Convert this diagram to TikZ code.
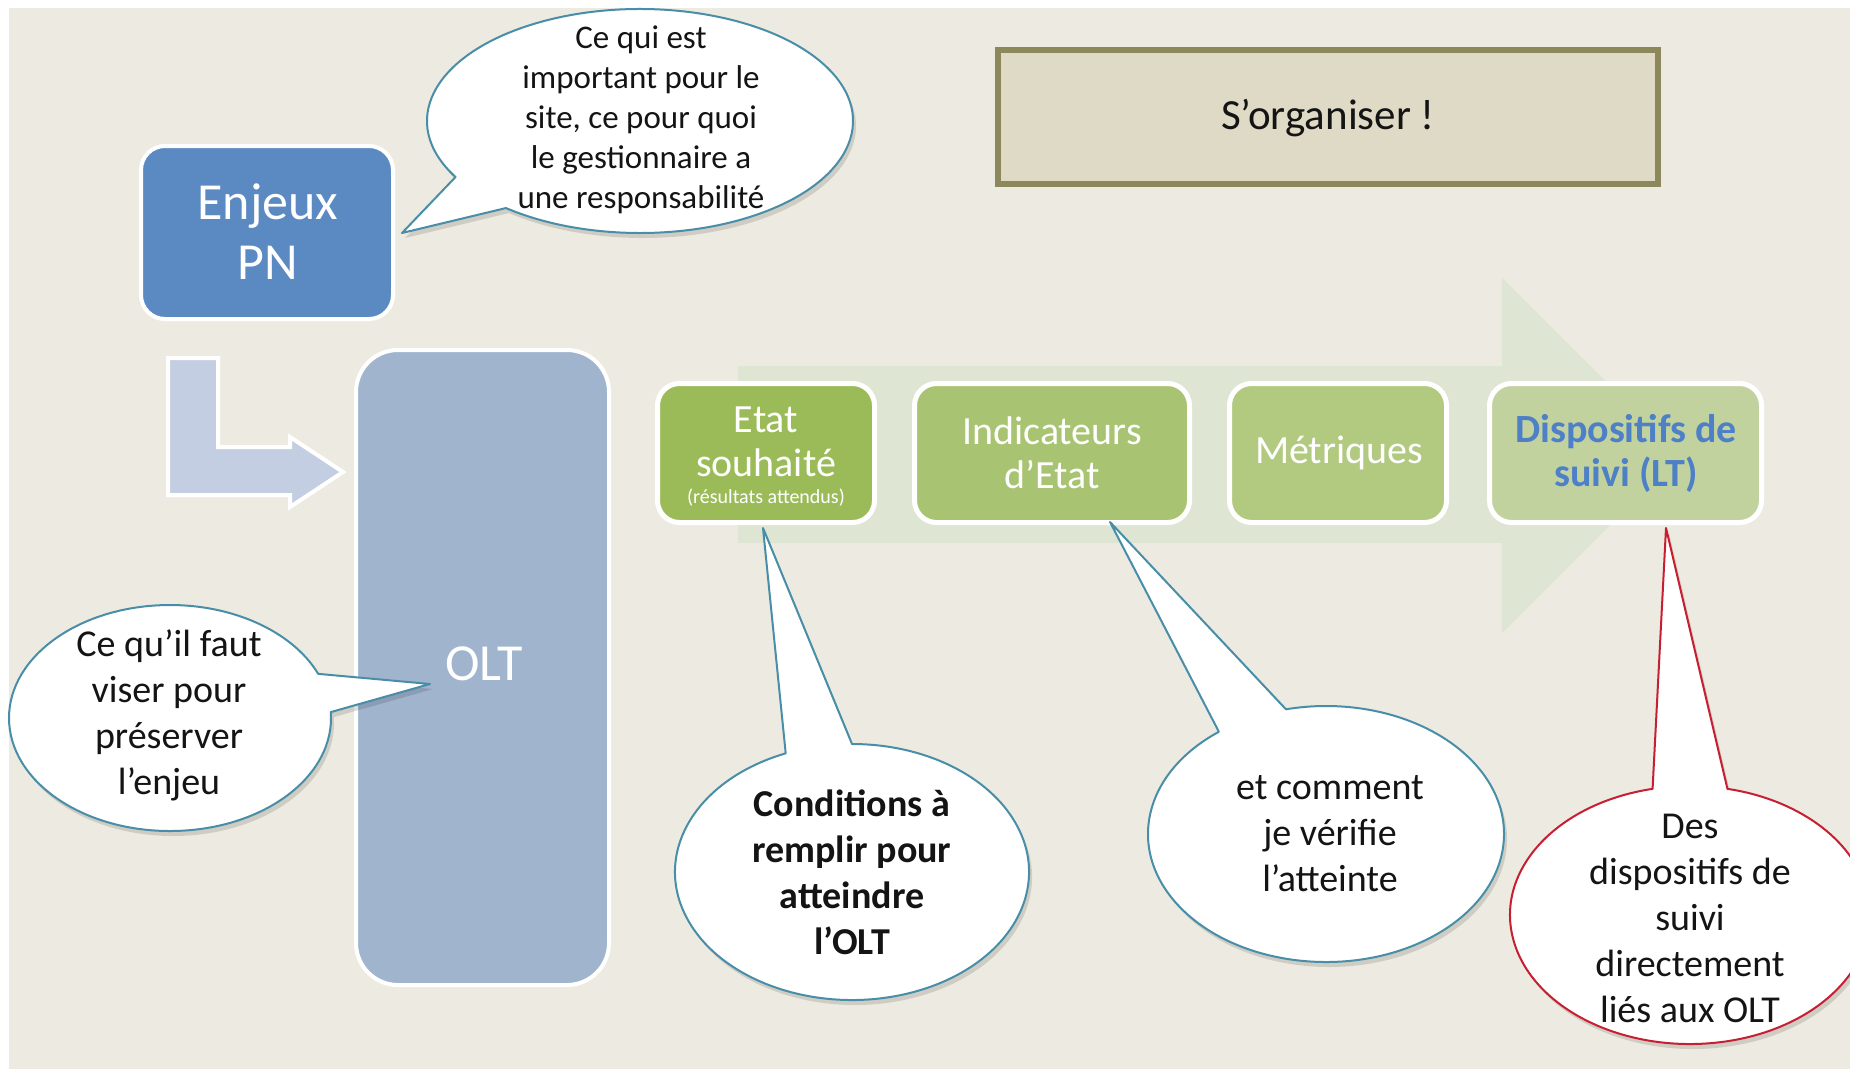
\documentclass[tikz,border=0pt]{standalone}
\usepackage{fontspec}
\setmainfont{Carlito}
\usetikzlibrary{calc}
\definecolor{bg}{RGB}{237,235,225}
\definecolor{enjeux}{RGB}{91,137,194}
\definecolor{oltc}{RGB}{160,180,206}
\definecolor{larrow}{RGB}{196,206,226}
\definecolor{bigarrow}{RGB}{222,229,210}
\definecolor{gA}{RGB}{155,187,89}
\definecolor{gB}{RGB}{168,195,113}
\definecolor{gC}{RGB}{178,201,128}
\definecolor{gD}{RGB}{194,210,158}
\definecolor{orgfill}{RGB}{222,218,197}
\definecolor{orgdraw}{RGB}{140,136,92}
\definecolor{bubdraw}{RGB}{72,142,168}
\definecolor{bubtint}{RGB}{210,233,243}
\definecolor{reddraw}{RGB}{200,30,50}
\definecolor{redtint}{RGB}{252,246,246}
\definecolor{dispblue}{RGB}{78,128,200}
\pgfdeclareradialshading{bubdrawshade}{\pgfpoint{0bp}{0bp}}{color(0bp)=(white); color(34bp)=(white); color(50bp)=(bubtint)}
\pgfdeclareradialshading{reddrawshade}{\pgfpoint{0bp}{0bp}}{color(0bp)=(white); color(40bp)=(white); color(50bp)=(redtint)}
% #1 cx, #2 cy, #3 rx, #4 ry, #5 start angle, #6 end angle, #7 tip x, #8 tip y, #9 outline colour
\newcommand\mybubble[9]{%
  \path[fill=white, preaction={fill=black, fill opacity=0.13, transform canvas={xshift=3pt,yshift=-5pt}}]
    (#7,#8) -- ($(#1,#2)+(#5:#3 and #4)$) arc[start angle=#5, end angle=#6, x radius=#3, y radius=#4] -- cycle;
  \shade[shading=#9shade] (#1,#2) ellipse[x radius=#3, y radius=#4];
  \fill[white] (#7,#8) -- ($(#1,#2)+(#5:#3 and #4)$) -- ($(#1,#2)+(#6:#3 and #4)$) -- cycle;
  \draw[draw=#9, line width=2pt, line join=round]
    (#7,#8) -- ($(#1,#2)+(#5:#3 and #4)$) arc[start angle=#5, end angle=#6, x radius=#3, y radius=#4] -- cycle;
}
\begin{document}
\begin{tikzpicture}[x=1pt,y=-1pt,
  rbox/.style={draw=white, line width=4pt},
  gbox/.style={draw=white, line width=5pt, rounded corners=22pt, minimum height=139pt},
  gtxt/.style={font=\fontsize{40}{44}\selectfont, text=white, align=center},
  btxt/.style={font=\fontsize{38}{46}\selectfont, text=black!92, align=center},
  ]
\useasboundingbox (0,0) rectangle (1850,1069);
\fill[white] (0,0) rectangle (1850,1069);
\fill[bg] (9,8) rectangle (1850,1069);

% big background arrow
\fill[bigarrow] (738,366) -- (1502,366) -- (1502,278) -- (1680,455) -- (1502,633) -- (1502,543) -- (738,543) -- cycle;

% S'organiser
\node[draw=orgdraw, line width=6pt, fill=orgfill, minimum width=660pt, minimum height=134pt] (org) at (1328,117) {};
\node[font=\fontsize{43}{50}\selectfont, text=black!92] (orgt) at (1328,118) {S’organiser !};

% Enjeux PN
\node[rbox, fill=enjeux, rounded corners=24pt, minimum width=252pt, minimum height=173pt] (enjeux) at (267,232.5) {};
\node[font=\fontsize{52}{60}\selectfont, text=white, align=center] (enjeuxt) at (268,232) {Enjeux\\PN};

% L arrow
\draw[white, line width=4pt, fill=larrow, line join=miter] (168,358) -- (218,358) -- (218,447) -- (290,447) -- (290,437) -- (343,472) -- (290,507) -- (290,495) -- (168,495) -- cycle;

% OLT
\node[rbox, fill=oltc, rounded corners=42pt, minimum width=253pt, minimum height=635pt] (olt) at (482.5,667.5) {};
\node[font=\fontsize{52}{60}\selectfont, text=white] (oltt) at (484,664) {OLT};

% green boxes
\node[gbox, fill=gA, minimum width=217pt] (b1) at (766,453) {};
\node[gtxt] (b1t) at (766,442) {Etat\\souhaité};
\node[font=\fontsize{20}{24}\selectfont, text=white] (b1s) at (766,498) {(résultats attendus)};
\node[gbox, fill=gB, minimum width=275pt] (b2) at (1052,453) {};
\node[gtxt] (b2t) at (1052,453) {Indicateurs\\d’Etat};
\node[gbox, fill=gC, minimum width=217pt] (b3) at (1338,453) {};
\node[gtxt] (b3t) at (1339,453) {Métriques};
\node[gbox, fill=gD, minimum width=272pt] (b4) at (1625.5,453) {};
\node[gtxt, text=dispblue, font=\fontsize{40}{44}\selectfont\bfseries] (b4t) at (1626,453) {Dispositifs de\\suivi (LT)};

% speech bubbles
\mybubble{640}{121}{213}{112}{150}{489}{402}{233}{bubdraw}
\node[font=\fontsize{33}{40}\selectfont, text=black!92, align=center] (q1) at (641,120) {Ce qui est\\important pour le\\site, ce pour quoi\\le gestionnaire a\\une responsabilité};

\mybubble{170}{718}{161}{113}{-3}{337}{430}{684}{bubdraw}
\node[btxt] (q2) at (169,715) {Ce qu’il faut\\viser pour\\préserver\\l’enjeu};

\mybubble{852}{872}{177}{128}{248}{-90}{763}{528}{bubdraw}
\node[btxt, font=\fontsize{38}{46}\selectfont\bfseries] (q3) at (852,872) {Conditions à\\remplir pour\\atteindre\\l’OLT};

\mybubble{1326}{834}{178}{128}{233}{-103}{1110}{522}{bubdraw}
\node[btxt] (q4) at (1330,834) {et comment\\je vérifie\\l’atteinte};

\mybubble{1690}{915}{180}{129}{258}{-78}{1666}{528}{reddraw}
\node[btxt] (q5) at (1690,918) {Des\\dispositifs de\\suivi\\directement\\liés aux OLT};
\end{tikzpicture}
\end{document}
